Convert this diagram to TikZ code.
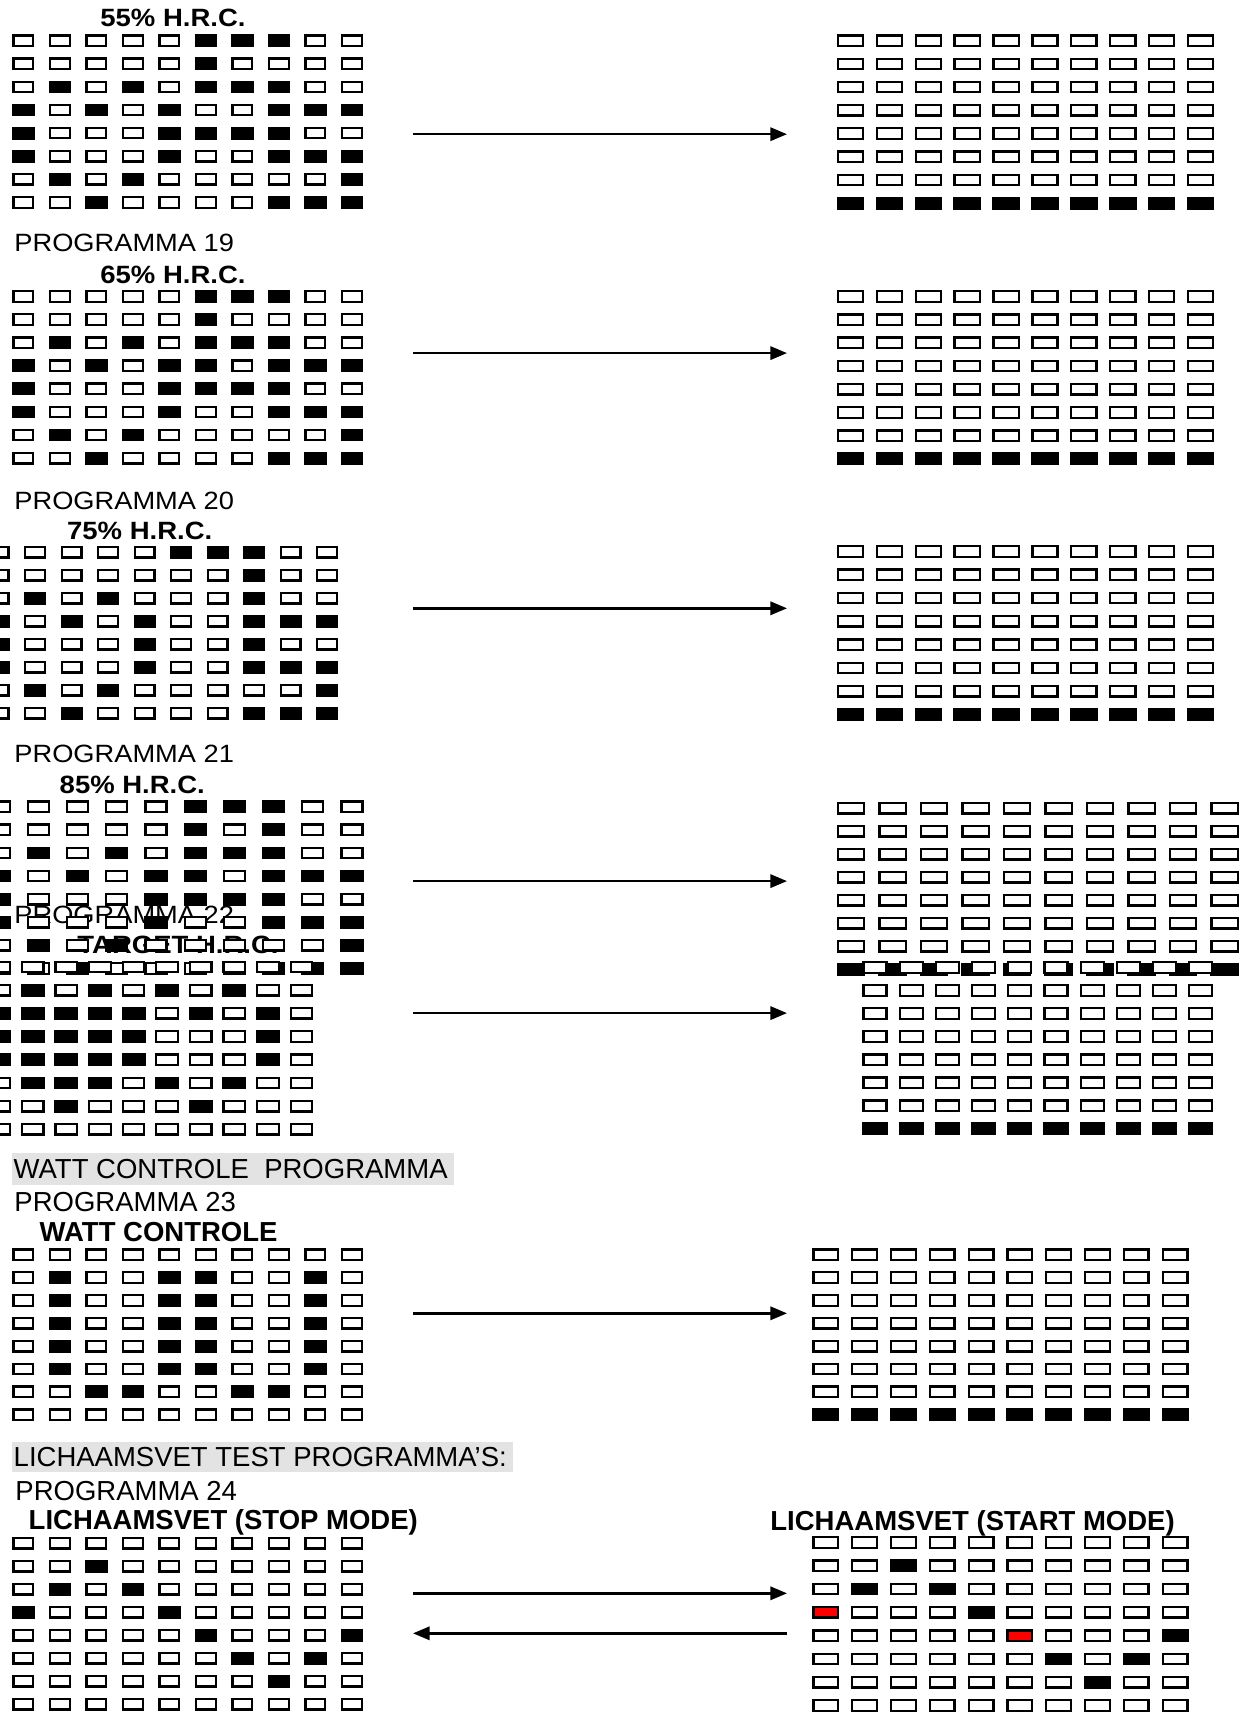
\documentclass[tikz,border=0pt]{standalone}
\usepackage{fontspec}
\setmainfont{Liberation Sans}
\usetikzlibrary{arrows.meta}
\definecolor{hl}{RGB}{227,227,227}
\tikzset{
  opencell/.style={draw=black, fill=white, line width=1.1pt},
  redcell/.style={draw=black, fill=red, line width=1.1pt},
  arr/.style={line width=1.15pt, -{Triangle[length=8pt,width=6.4pt]}},
  tup/.style={anchor=base west, inner sep=0pt, font=\fontsize{12}{14}\selectfont\bfseries},
  pup/.style={anchor=base west, inner sep=0pt, font=\fontsize{12}{14}\selectfont},
  tlo/.style={anchor=base west, inner sep=0pt, font=\fontsize{13.2}{15}\selectfont\bfseries},
  plo/.style={anchor=base west, inner sep=0pt, font=\fontsize{13.2}{15}\selectfont},
}
% #1 x0, #2 y0, #3 dx, #4 dy, #5 w, #6 h, #7 rows
\newcommand\cellgrid[7]{%
  \foreach \rw [count=\j from 0] in {#7} {%
    \foreach \c [count=\i from 0] in \rw {%
      \pgfmathsetmacro\xa{#1+\i*#3}%
      \pgfmathsetmacro\ya{#2+\j*#4}%
      \ifcase\c\relax
        \draw[opencell] (\xa+1.15,\ya+1.15) rectangle ++(#5-2.3,#6-2.3);
      \or
        \fill[black] (\xa,\ya) rectangle ++(#5,#6);
      \or
        \draw[redcell] (\xa+1.15,\ya+1.15) rectangle ++(#5-2.3,#6-2.3);
      \fi
    }%
  }%
}
\newcommand\rgrid[6]{\cellgrid{#1}{#2}{#3}{#4}{#5}{#6}{%
{0,0,0,0,0,0,0,0,0,0},{0,0,0,0,0,0,0,0,0,0},{0,0,0,0,0,0,0,0,0,0},{0,0,0,0,0,0,0,0,0,0},%
{0,0,0,0,0,0,0,0,0,0},{0,0,0,0,0,0,0,0,0,0},{0,0,0,0,0,0,0,0,0,0},{1,1,1,1,1,1,1,1,1,1}}}
\begin{document}
\begin{tikzpicture}[x=0.48pt,y=-0.48pt]
\useasboundingbox (0,0) rectangle (1254,1725);
\fill[white] (0,0) rectangle (1254,1725);

% ---------- Block 1 ----------
\node[tup] (t55) at (100,26.7) {\scalebox{1.1}[1]{55\% H.R.C.}};
\cellgrid{12.3}{34.3}{36.5}{23.1}{22.2}{12.8}{%
{0,0,0,0,0,1,1,1,0,0},{0,0,0,0,0,1,0,0,0,0},{0,1,0,1,0,1,1,1,0,0},{1,0,1,0,1,0,0,1,1,1},%
{1,0,0,0,1,1,1,1,0,0},{1,0,0,0,1,0,0,1,1,1},{0,1,0,1,0,0,0,0,0,1},{0,0,1,0,0,0,0,1,1,1}}
\rgrid{836.7}{34.3}{38.9}{23.2}{27.5}{12.8}
\coordinate (a1s) at (413,134.2); \coordinate (a1e) at (787,134.2);
\draw[arr] (a1s) -- (a1e);

% ---------- Block 2 ----------
\node[pup] (p19) at (14,251.7) {\scalebox{1.09}[1]{PROGRAMMA 19}};
\node[tup] (t65) at (100,283.3) {\scalebox{1.1}[1]{65\% H.R.C.}};
\cellgrid{12.3}{290}{36.5}{23.1}{22.2}{12.8}{%
{0,0,0,0,0,1,1,1,0,0},{0,0,0,0,0,1,0,0,0,0},{0,1,0,1,0,1,1,1,0,0},{1,0,1,0,1,1,0,1,1,1},%
{1,0,0,0,1,1,1,1,0,0},{1,0,0,0,1,0,0,1,1,1},{0,1,0,1,0,0,0,0,0,1},{0,0,1,0,0,0,0,1,1,1}}
\rgrid{836.7}{290}{38.9}{23.2}{27.5}{12.8}
\coordinate (a2s) at (413,353.1); \coordinate (a2e) at (787,353.1);
\draw[arr] (a2s) -- (a2e);

% ---------- Block 3 ----------
\node[pup] (p20) at (14,509) {\scalebox{1.09}[1]{PROGRAMMA 20}};
\node[tup] (t75) at (66.7,539) {\scalebox{1.1}[1]{75\% H.R.C.}};
\cellgrid{-12.5}{545.7}{36.5}{23}{22.2}{12.8}{%
{0,0,0,0,0,1,1,1,0,0},{0,0,0,0,0,0,0,1,0,0},{0,1,0,1,0,0,0,1,0,0},{1,0,1,0,1,0,0,1,1,1},%
{1,0,0,0,1,0,0,1,0,0},{1,0,0,0,1,0,0,1,1,1},{0,1,0,1,0,0,0,0,0,1},{0,0,1,0,0,0,0,1,1,1}}
\rgrid{836.7}{545}{38.9}{23.3}{27.5}{12.8}
\coordinate (a3s) at (413,608.3); \coordinate (a3e) at (787,608.3);
\draw[arr] (a3s) -- (a3e);

% ---------- Block 4 and 5 (overlapping) ----------
\node[pup] (p21) at (14,762) {\scalebox{1.09}[1]{PROGRAMMA 21}};
\node[tup] (t85) at (59.3,793.7) {\scalebox{1.1}[1]{85\% H.R.C.}};
\node[pup] (p22) at (14,923.3) {\scalebox{1.09}[1]{PROGRAMMA 22}};
\node[tup] (ttg) at (77,953) {\scalebox{1.1}[1]{TARGET H.R.C.}};
\cellgrid{-12.5}{800.3}{39.2}{23.1}{23.3}{12.8}{%
{0,0,0,0,0,1,1,1,0,0},{0,0,0,0,0,1,0,1,0,0},{0,1,0,1,0,1,1,1,0,0},{1,0,1,0,1,1,0,1,1,1},%
{1,0,0,0,1,1,1,1,0,0},{1,0,0,0,1,0,0,1,1,1},{0,1,0,1,0,0,0,0,0,1},{0,0,1,0,0,0,0,1,1,1}}
\cellgrid{-12.9}{960.5}{33.6}{23.2}{24}{12.8}{%
{0,0,0,0,0,0,0,0,0,0},{0,1,0,1,0,1,0,1,0,0},{1,1,1,1,1,0,1,0,1,0},{1,1,1,1,1,0,0,0,1,0},%
{1,1,1,1,1,0,0,0,1,0},{0,1,1,1,0,1,0,1,0,0},{0,0,1,0,0,0,1,0,0,0},{0,0,0,0,0,0,0,0,0,0}}
\rgrid{836.7}{801.7}{41.5}{23.0}{28.7}{12.8}
\rgrid{862.3}{961}{36.2}{23.05}{25.3}{12.8}
\coordinate (a4s) at (413,881.1); \coordinate (a4e) at (787,881.1);
\draw[arr] (a4s) -- (a4e);
\coordinate (a5s) at (413,1013.1); \coordinate (a5e) at (787,1013.1);
\draw[arr] (a5s) -- (a5e);

% ---------- Watt controle ----------
\fill[hl] (11.7,1153.3) rectangle (454,1185);
\node[plo] (hwatt) at (13.3,1178.3) {WATT CONTROLE\ \ PROGRAMMA};
\node[plo] (p23) at (14,1211.7) {PROGRAMMA 23};
\node[tlo] (twatt) at (39.3,1241.7) {WATT CONTROLE};
\cellgrid{12.3}{1248.3}{36.5}{22.86}{22.2}{12.8}{%
{0,0,0,0,0,0,0,0,0,0},{0,1,0,0,1,1,0,0,1,0},{0,1,0,0,1,1,0,0,1,0},{0,1,0,0,1,1,0,0,1,0},%
{0,1,0,0,1,1,0,0,1,0},{0,1,0,0,1,1,0,0,1,0},{0,0,1,1,0,0,1,1,0,0},{0,0,0,0,0,0,0,0,0,0}}
\rgrid{812.3}{1248.3}{38.8}{22.86}{27}{12.8}
\coordinate (a6s) at (413,1313.3); \coordinate (a6e) at (787,1313.3);
\draw[arr] (a6s) -- (a6e);

% ---------- Lichaamsvet ----------
\fill[hl] (11.7,1441.7) rectangle (512.6,1472.3);
\node[plo] (hlich) at (13.3,1466.7) {LICHAAMSVET TEST PROGRAMMA’S:};
\node[plo] (p24) at (15,1500) {PROGRAMMA 24};
\node[tlo] (tstop) at (28.3,1529.3) {LICHAAMSVET (STOP MODE)};
\node[tlo] (tstart) at (770,1530.7) {LICHAAMSVET (START MODE)};
\cellgrid{12.3}{1536.7}{36.5}{23.0}{22.2}{12.8}{%
{0,0,0,0,0,0,0,0,0,0},{0,0,1,0,0,0,0,0,0,0},{0,1,0,1,0,0,0,0,0,0},{1,0,0,0,1,0,0,0,0,0},%
{0,0,0,0,0,1,0,0,0,1},{0,0,0,0,0,0,1,0,1,0},{0,0,0,0,0,0,0,1,0,0},{0,0,0,0,0,0,0,0,0,0}}
\cellgrid{812.3}{1536}{38.8}{23.3}{27}{12.8}{%
{0,0,0,0,0,0,0,0,0,0},{0,0,1,0,0,0,0,0,0,0},{0,1,0,1,0,0,0,0,0,0},{2,0,0,0,1,0,0,0,0,0},%
{0,0,0,0,0,2,0,0,0,1},{0,0,0,0,0,0,1,0,1,0},{0,0,0,0,0,0,0,1,0,0},{0,0,0,0,0,0,0,0,0,0}}
\coordinate (a7s) at (413,1593.3); \coordinate (a7e) at (787,1593.3);
\draw[arr] (a7s) -- (a7e);
\coordinate (a8s) at (787,1633.3); \coordinate (a8e) at (413,1633.3);
\draw[arr] (a8s) -- (a8e);
\end{tikzpicture}
\end{document}
